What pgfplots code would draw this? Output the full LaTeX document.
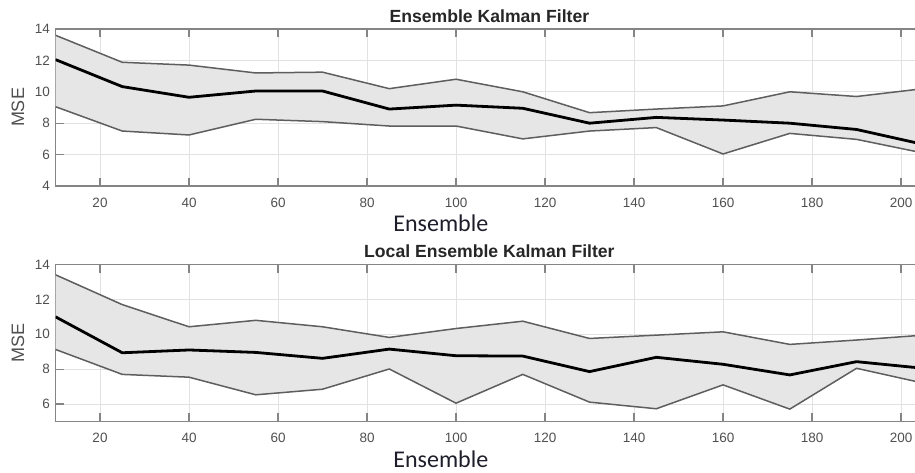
\documentclass[border=0pt]{standalone}
\usepackage{pgfplots}
\pgfplotsset{compat=1.18}
\usepackage{pgfplotstable}
\usepgfplotslibrary{fillbetween}
\usepackage{fontspec}
\setmainfont{Liberation Sans}
\newfontfamily\calibri{Carlito}
\definecolor{axgray}{HTML}{858585}
\definecolor{ticklab}{HTML}{505050}
\definecolor{gridc}{HTML}{E2E2E2}
\definecolor{bandfill}{HTML}{E6E6E6}
\definecolor{bandline}{HTML}{5E5E5E}
\definecolor{labc}{HTML}{1E1E2A}

\pgfplotstableread{
x mean up lo
10 12.05 13.6 9.05
25 10.33 11.88 7.5
40 9.65 11.7 7.25
55 10.05 11.2 8.25
70 10.05 11.25 8.1
85 8.9 10.2 7.82
100 9.15 10.8 7.82
115 8.95 10.0 7.0
130 8.0 8.67 7.5
145 8.37 8.9 7.72
160 8.2 9.1 6.04
175 8.0 10.0 7.35
190 7.6 9.7 6.97
205 6.65 10.2 6.1
}\enkf

\pgfplotstableread{
x mean up lo
10 11.0 13.41 9.13
25 8.94 11.7 7.7
40 9.1 10.43 7.54
55 8.96 10.8 6.53
70 8.62 10.43 6.85
85 9.15 9.82 8.01
100 8.77 10.33 6.05
115 8.75 10.75 7.7
130 7.86 9.76 6.11
145 8.68 9.95 5.73
160 8.28 10.14 7.1
175 7.67 9.42 5.71
190 8.43 9.67 8.05
205 8.05 9.95 7.2
}\lenkf

\pgfplotsset{
  mystyle/.style={
    scale only axis, width=867.8pt, height=157pt,
    xmin=10, xmax=205,
    xtick={20,40,...,200},
    grid=major, grid style={gridc, line width=0.7pt},
    axis line style={axgray, line width=1.3pt},
    tick style={axgray, line width=1.3pt},
    major tick length=8pt, tick align=inside,
    xtick pos=both, ytick pos=both,
    ticklabel style={font=\fontsize{13.5}{15}\selectfont, text=ticklab},
    xticklabel style={yshift=-8.5pt},
    yticklabel style={xshift=-2pt},
    /pgf/number format/assume math mode=true,
    ylabel={MSE},
    ylabel style={font=\fontsize{18}{20}\selectfont, text=ticklab,
      at={(axis description cs:-0.0432,0.5)}, anchor=center},
    xlabel={\calibri Ensemble},
    xlabel style={font=\fontsize{24}{26}\selectfont, text=labc,
      at={(axis description cs:0.444,-0.292)}, anchor=base},
    every axis title shift=0pt,
    title style={font=\bfseries\fontsize{17.6}{19}\selectfont, text=black!85,
      at={(axis description cs:0.5,1)}, anchor=base, yshift=6.8pt},
  },
  bandl/.style={bandline, line width=1.5pt},
  meanl/.style={black, line width=2.8pt},
}

\begin{document}
\begin{tikzpicture}
\begin{axis}[mystyle, at={(55.5pt,287pt)}, anchor=south west,
  ymin=4, ymax=14, ytick={4,6,...,14},
  title={Ensemble Kalman Filter}]
  \addplot[bandl, name path=up] table[x=x, y=up] {\enkf};
  \addplot[bandl, name path=lo] table[x=x, y=lo] {\enkf};
  \addplot[bandfill] fill between[of=up and lo];
  \addplot[meanl] table[x=x, y=mean] {\enkf};
\end{axis}
\begin{axis}[mystyle, at={(55.5pt,51.5pt)}, anchor=south west,
  ymin=5, ymax=14, ytick={6,8,...,14},
  title={Local Ensemble Kalman Filter}]
  \addplot[bandl, name path=up] table[x=x, y=up] {\lenkf};
  \addplot[bandl, name path=lo] table[x=x, y=lo] {\lenkf};
  \addplot[bandfill] fill between[of=up and lo];
  \addplot[meanl] table[x=x, y=mean] {\lenkf};
\end{axis}
\pgfresetboundingbox
\path[use as bounding box] (0,0) rectangle (915pt,473pt);
\end{tikzpicture}
\end{document}
